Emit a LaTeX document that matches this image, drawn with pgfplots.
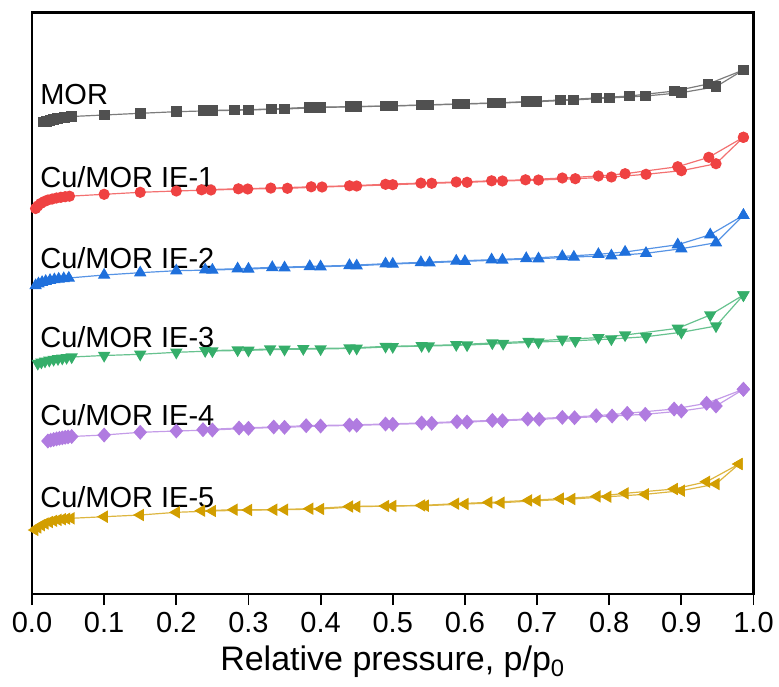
\documentclass[border=0pt]{standalone}
\usepackage{pgfplots}
\pgfplotsset{compat=1.18}
\usepackage{fontspec}
\setmainfont{Liberation Sans}
\definecolor{cMOR}{RGB}{80,80,80}
\definecolor{cA}{RGB}{239,66,66}
\definecolor{cB}{RGB}{31,112,220}
\definecolor{cC}{RGB}{53,174,106}
\definecolor{cD}{RGB}{176,123,224}
\definecolor{cE}{RGB}{210,158,0}
\pgfplotsset{
  iso/.style={line width=0.6pt, color=#1!75!white},
}
\begin{document}
\begin{tikzpicture}
\useasboundingbox (-16pt,-46pt) rectangle (373.5pt,297pt);
\begin{axis}[
  scale only axis,
  width=360.75pt, height=290.75pt,
  xmin=0, xmax=1, ymin=0, ymax=581.5,
  xtick={0,0.1,...,1.0},
  xticklabel style={/pgf/number format/.cd, fixed, fixed zerofill, precision=1},
  /pgf/number format/assume math mode=true,
  ytick=\empty,
  tick align=outside,
  xtick pos=bottom,
  major tick length=5.5pt,
  every tick/.style={black, line width=0.9pt},
  axis line style={line width=1.1pt},
  tick label style={font=\fontsize{14.5pt}{17pt}\selectfont},
  xlabel={Relative pressure, p/p\textsubscript{0}},
  xlabel style={font=\fontsize{17pt}{20pt}\selectfont},
  clip=false,
]
% MOR
\addplot[iso=cMOR, mark=square*, mark size=2.4pt, mark options={fill=cMOR, draw=cMOR, solid}] coordinates {
(0.016,472.0)(0.020,472.8)(0.025,473.6)(0.030,474.4)(0.035,475.2)(0.040,475.9)(0.045,476.5)(0.050,477.0)(0.055,477.5)
(0.10,479.0)(0.15,480.7)(0.20,482.3)(0.25,483.3)(0.30,484.0)(0.35,485.0)(0.40,486.5)(0.45,487.3)(0.50,488.0)(0.55,489.0)(0.60,490.0)(0.65,491.0)(0.70,492.3)(0.75,494.0)(0.80,496.0)(0.85,498.0)(0.90,501.3)(0.948,507.3)(0.986,524.0)};
\addplot[iso=cMOR, mark=square*, mark size=2.4pt, mark options={fill=cMOR, draw=cMOR, solid}] coordinates {
(0.986,524.0)(0.937,510.0)(0.891,503.0)(0.828,498.0)(0.782,496.0)(0.732,494.0)(0.685,492.3)(0.638,491.0)(0.589,490.0)(0.540,489.0)(0.490,488.0)(0.441,487.3)(0.385,486.7)(0.332,485.0)(0.281,484.0)(0.238,483.3)};
% IE-1
\addplot[iso=cA, mark=*, mark size=2.5pt, mark options={fill=cA, draw=cA, solid}] coordinates {
(0.005,385.5)(0.008,388.0)(0.012,390.5)(0.017,392.5)(0.022,394.0)(0.028,395.0)(0.034,396.0)(0.040,396.7)(0.046,397.3)(0.052,397.8)
(0.10,399.7)(0.15,401.7)(0.20,403.0)(0.248,404.0)(0.299,405.0)(0.354,405.7)(0.402,407.0)(0.45,408.0)(0.50,409.3)(0.554,410.7)(0.603,411.7)(0.652,413.0)(0.702,414.0)(0.753,415.3)(0.803,417.0)(0.851,419.7)(0.900,423.3)(0.948,430.3)(0.986,456.7)};
\addplot[iso=cA, mark=*, mark size=2.5pt, mark options={fill=cA, draw=cA, solid}] coordinates {
(0.986,456.7)(0.938,436.7)(0.895,427.3)(0.822,420.3)(0.785,418.0)(0.735,416.0)(0.684,414.2)(0.637,413.2)(0.588,412.0)(0.539,410.9)(0.49,409.7)(0.44,408.2)(0.387,407.2)(0.331,405.9)(0.286,405.2)(0.235,404.2)};
% IE-2
\addplot[iso=cB, mark=triangle*, mark size=3pt, mark options={fill=cB, draw=cB, solid}] coordinates {
(0.005,308.5)(0.009,310.3)(0.014,311.7)(0.019,312.8)(0.025,313.7)(0.031,314.4)(0.037,315.0)(0.044,315.5)(0.051,316.0)
(0.10,319.0)(0.15,321.3)(0.20,323.3)(0.25,324.0)(0.30,325.0)(0.35,326.3)(0.40,327.3)(0.45,328.3)(0.50,330.0)(0.551,331.3)(0.600,332.7)(0.652,334.0)(0.702,335.3)(0.751,337.0)(0.803,338.3)(0.851,340.7)(0.900,345.3)(0.948,351.3)(0.986,378.7)};
\addplot[iso=cB, mark=triangle*, mark size=3pt, mark options={fill=cB, draw=cB, solid}] coordinates {
(0.986,378.7)(0.94,359.3)(0.895,349.3)(0.822,342.0)(0.785,339.7)(0.735,337.6)(0.685,335.6)(0.637,334.3)(0.588,333.0)(0.539,331.6)(0.49,330.3)(0.44,328.6)(0.385,327.6)(0.333,326.6)(0.285,325.3)(0.24,324.3)};
% IE-3
\addplot[iso=cC, mark=triangle*, mark size=3pt, mark options={rotate=180, fill=cC, draw=cC, solid}] coordinates {
(0.008,230.5)(0.013,231.8)(0.018,232.8)(0.024,233.7)(0.030,234.5)(0.036,235.2)(0.042,235.8)(0.048,236.4)(0.055,237.0)
(0.10,238.5)(0.15,239.7)(0.20,241.7)(0.25,243.0)(0.30,243.7)(0.35,244.7)(0.40,245.0)(0.45,245.7)(0.50,247.3)(0.55,248.0)(0.603,249.0)(0.653,250.5)(0.702,252.0)(0.753,253.3)(0.803,255.0)(0.851,257.3)(0.900,261.7)(0.948,268.0)(0.986,299.0)};
\addplot[iso=cC, mark=triangle*, mark size=3pt, mark options={rotate=180, fill=cC, draw=cC, solid}] coordinates {
(0.986,299.0)(0.94,279.0)(0.895,265.7)(0.822,259.0)(0.785,256.3)(0.735,254.7)(0.688,252.6)(0.638,251.0)(0.588,249.3)(0.54,248.3)(0.49,247.6)(0.44,246.0)(0.376,245.3)(0.33,245.0)(0.285,244.0)(0.24,243.3)};
% IE-4
\addplot[iso=cD, mark=diamond*, mark size=3.3pt, mark options={xscale=1.2, fill=cD, draw=cD, solid}] coordinates {
(0.022,153.0)(0.026,153.8)(0.030,154.5)(0.034,155.1)(0.038,155.7)(0.042,156.2)(0.046,156.7)(0.050,157.1)(0.055,157.5)
(0.10,159.0)(0.15,161.7)(0.20,163.0)(0.25,164.0)(0.30,165.7)(0.35,166.7)(0.40,168.0)(0.45,168.7)(0.50,169.7)(0.554,170.7)(0.603,172.0)(0.652,173.3)(0.703,174.7)(0.752,176.3)(0.804,178.0)(0.85,179.7)(0.90,183.0)(0.948,188.0)(0.986,204.7)};
\addplot[iso=cD, mark=diamond*, mark size=3.3pt, mark options={xscale=1.2, fill=cD, draw=cD, solid}] coordinates {
(0.986,204.7)(0.935,190.7)(0.89,185.0)(0.825,180.7)(0.782,178.3)(0.735,176.6)(0.687,175.0)(0.638,173.6)(0.589,172.3)(0.54,171.0)(0.49,170.0)(0.44,169.0)(0.38,168.3)(0.335,167.0)(0.287,166.0)(0.237,164.3)};
% IE-5
\addplot[iso=cE, mark=triangle*, mark size=3pt, mark options={rotate=90, fill=cE, draw=cE, solid}] coordinates {
(0.004,64.0)(0.008,66.5)(0.013,68.8)(0.018,70.5)(0.024,72.0)(0.030,73.2)(0.036,74.1)(0.042,74.8)(0.048,75.3)(0.054,75.7)
(0.10,77.3)(0.15,79.0)(0.20,81.7)(0.25,83.0)(0.30,84.0)(0.35,84.3)(0.40,85.0)(0.45,87.3)(0.50,88.0)(0.545,88.3)(0.60,90.0)(0.65,91.3)(0.70,93.3)(0.748,95.0)(0.798,97.3)(0.85,99.7)(0.90,103.3)(0.948,110.0)(0.98,130.0)};
\addplot[iso=cE, mark=triangle*, mark size=3pt, mark options={rotate=90, fill=cE, draw=cE, solid}] coordinates {
(0.98,130.0)(0.935,112.3)(0.89,105.0)(0.822,100.7)(0.783,97.6)(0.732,95.3)(0.688,93.6)(0.633,91.6)(0.587,90.3)(0.54,88.6)(0.49,88.0)(0.44,87.5)(0.385,85.3)(0.335,84.3)(0.28,84.3)(0.235,83.3)};
% labels
\begin{scope}[every node/.style={anchor=base west, inner sep=0pt, font=\fontsize{14.5pt}{17pt}\selectfont}]
\node at (axis cs:0.011,489) {MOR};
\node at (axis cs:0.011,406.5) {Cu/MOR IE-1};
\node at (axis cs:0.011,325.7) {Cu/MOR IE-2};
\node at (axis cs:0.011,247) {Cu/MOR IE-3};
\node at (axis cs:0.011,169) {Cu/MOR IE-4};
\node at (axis cs:0.011,87) {Cu/MOR IE-5};
\end{scope}
\end{axis}
\end{tikzpicture}
\end{document}
